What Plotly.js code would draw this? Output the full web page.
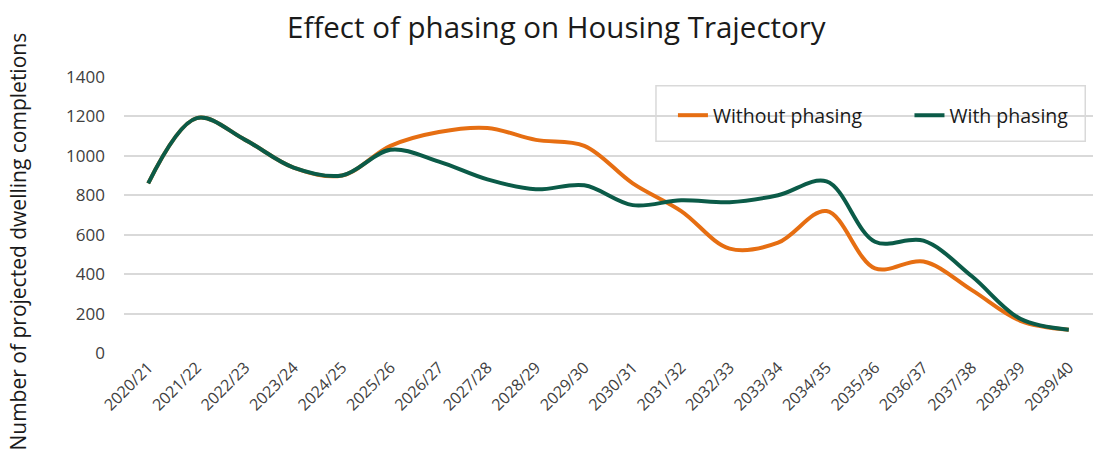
<!DOCTYPE html>
<html>
<head>
<meta charset="utf-8">
<script src="https://cdn.plot.ly/plotly-3.0.1.min.js"></script>
<style>html,body{margin:0;padding:0;background:#fff;}#chart{width:1093px;height:456px;}</style>
</head>
<body>
<div id="chart"></div>
<script>
const years = ["2020/21","2021/22","2022/23","2023/24","2024/25","2025/26","2026/27","2027/28","2028/29","2029/30","2030/31","2031/32","2032/33","2033/34","2034/35","2035/36","2036/37","2037/38","2038/39","2039/40"];
const withoutPhasing = [860,1190,1080,940,900,1050,1120,1140,1080,1050,860,720,530,560,720,430,465,320,165,120];
const withPhasing    = [860,1190,1080,940,900,1030,970,880,830,850,750,775,765,800,870,565,570,390,175,120];
const yTitle = "Number of projected dwelling completions";

const traces = [
  {x: years, y: withoutPhasing, name: "Without phasing", type: "scatter", mode: "lines", legend: "legend",
   line: {color: "#E66E12", width: 4, shape: "spline", smoothing: 1}},
  {x: years, y: withPhasing, name: "With phasing", type: "scatter", mode: "lines", legend: "legend2",
   line: {color: "#0B5B48", width: 4, shape: "spline", smoothing: 1}}
];

const legendStyle = {orientation: "h", xanchor: "left", yanchor: "top", y: 0.928,
                     bgcolor: "rgba(0,0,0,0)", borderwidth: 0,
                     font: {size: 19.5, color: "#1a1a1a"}};

const layout = {
  width: 1093, height: 456,
  margin: {l: 124, r: 0, t: 76, b: 102},
  paper_bgcolor: "#fff", plot_bgcolor: "#fff",
  font: {family: "Open Sans, Liberation Sans, sans-serif", color: "#404040"},
  title: {text: "Effect of phasing on Housing Trajectory", x: 0.509, xanchor: "center", y: 0.94, yanchor: "middle",
          font: {size: 29.5, color: "#1a1a1a", family: "Open Sans, sans-serif"}},
  xaxis: {type: "category", range: [-0.5, 19.5], tickangle: -45, showgrid: false, zeroline: false,
          showline: false, ticks: "", automargin: false, tickfont: {size: 16, color: "#404040"}},
  yaxis: {range: [-3, 1403], tickvals: [0,200,400,600,800,1000,1200,1400], showgrid: true,
          gridcolor: "#d9d9d9", gridwidth: 2, automargin: false,
          zeroline: false, showline: false, ticks: "", ticklabelstandoff: 18,
          tickfont: {size: 17, color: "#404040"}},
  annotations: [{text: yTitle, textangle: -90, xref: "paper", yref: "paper",
                 x: -0.109, xanchor: "center", y: 1.165, yanchor: "top", showarrow: false,
                 font: {size: 21, color: "#1a1a1a"}}],
  shapes: [{type: "rect", xref: "paper", yref: "paper", layer: "below",
            x0: 0.549, x1: 0.992, y0: 0.765, y1: 0.965,
            fillcolor: "#ffffff", line: {color: "#d9d9d9", width: 1.5}}],
  showlegend: true,
  legend: Object.assign({}, legendStyle, {x: 0.5665}),
  legend2: Object.assign({}, legendStyle, {x: 0.8106})
};

Plotly.newPlot("chart", traces, layout, {staticPlot: true});
</script>
</body>
</html>
